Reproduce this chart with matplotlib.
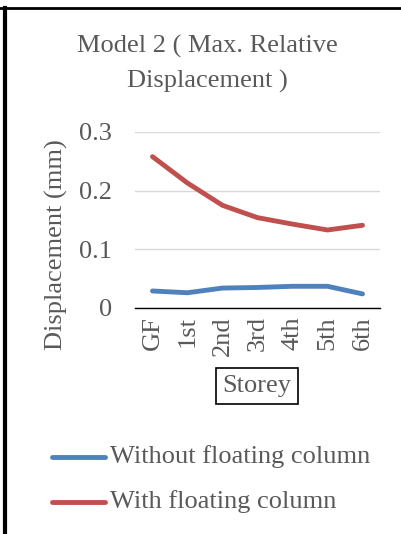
import matplotlib
matplotlib.use("Agg")
import matplotlib.pyplot as plt
from matplotlib.lines import Line2D

# data
storeys = ["GF", "1st", "2nd", "3rd", "4th", "5th", "6th"]
without_fc = [0.029, 0.026, 0.034, 0.035, 0.037, 0.037, 0.024]
with_fc = [0.258, 0.213, 0.175, 0.154, 0.143, 0.133, 0.141]

grey = "#595959"
blue = "#4F81BD"
red = "#C0504D"
fs = 19

plt.rcParams["font.family"] = ["Liberation Serif", "DejaVu Serif"]

fig = plt.figure(figsize=(4.01, 5.34), dpi=100)
W, H = 401, 534
ax = fig.add_axes([135 / W, 1 - 308 / H, 245 / W, (308 - 132) / H])

x = range(len(storeys))
ax.plot(x, without_fc, color=blue, lw=3.5, solid_capstyle="round")
ax.plot(x, with_fc, color=red, lw=3.5, solid_capstyle="round")

ax.set_xlim(-0.5, len(storeys) - 0.5)
ax.set_ylim(0, 0.3)
ax.set_yticks([0, 0.1, 0.2, 0.3])
ax.set_yticklabels(["0", "0.1", "0.2", "0.3"])
ax.set_xticks(list(x))
ax.set_xticklabels(storeys, rotation=90)
ax.tick_params(axis="both", length=0, labelsize=fs, colors=grey)
ax.tick_params(axis="y", pad=16.5)
ax.tick_params(axis="x", pad=6)
ax.grid(axis="y", color="#D9D9D9", lw=1)
ax.set_axisbelow(True)
for s in ["top", "right", "left"]:
    ax.spines[s].set_visible(False)
ax.spines["bottom"].set_color("black")
ax.spines["bottom"].set_linewidth(1)
ax.set_ylabel("Displacement (mm)", fontsize=fs, color=grey)
ax.yaxis.set_label_coords((68 - 135) / 245, (308 - 245) / 176)

# title
fig.text(207 / W, 1 - 46 / H, "Model 2 ( Max. Relative", ha="center", va="center",
         fontsize=fs, color=grey)
fig.text(207 / W, 1 - 81 / H, "Displacement )", ha="center", va="center",
         fontsize=fs, color=grey)

# x axis title in a box
fig.text(257 / W, 1 - 386 / H, "Storey", ha="center", va="center", fontsize=fs,
         color=grey, bbox=dict(boxstyle="square,pad=0.25", fc="white", ec="black", lw=1.2))

# legend
for yy, c, lab in [(457, blue, "Without floating column"), (502, red, "With floating column")]:
    fig.add_artist(Line2D([52 / W, 105 / W], [1 - yy / H, 1 - yy / H], color=c, lw=3.5,
                          solid_capstyle="round"))
    fig.text(110 / W, 1 - yy / H, lab, ha="left", va="center", fontsize=fs, color=grey)

# frame lines
fig.add_artist(Line2D([0, 1], [1 - 8 / H, 1 - 8 / H], color="black", lw=2))
fig.add_artist(Line2D([5 / W, 5 / W], [0, 1 - 8 / H], color="black", lw=3))

fig.savefig("out.png", dpi=100)
